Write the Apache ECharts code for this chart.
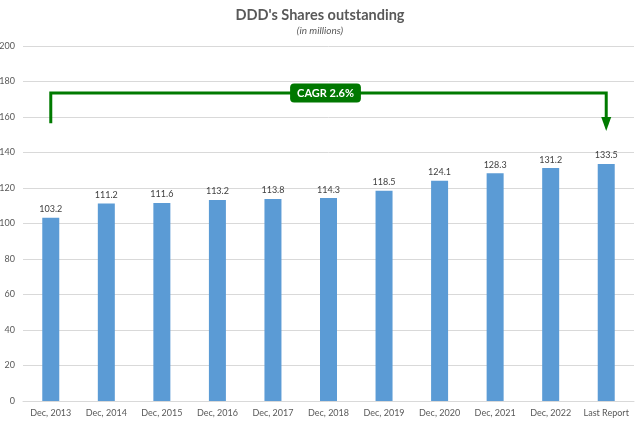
<!DOCTYPE html>
<html>
<head>
<meta charset="utf-8">
<script src="https://cdn.jsdelivr.net/npm/echarts@6/dist/echarts.min.js"></script>
</head>
<body style="margin:0;">
<div id="main" style="width:640px;height:421px;"></div>
<script type="text/javascript">
    var categories = ['Dec, 2013', 'Dec, 2014', 'Dec, 2015', 'Dec, 2016', 'Dec, 2017', 'Dec, 2018',
        'Dec, 2019', 'Dec, 2020', 'Dec, 2021', 'Dec, 2022', 'Last Report'];
    var shares = [103.2, 111.2, 111.6, 113.2, 113.8, 114.3, 118.5, 124.1, 128.3, 131.2, 133.5];
    // bracket from first to last bar (category index, value)
    var bracket = [[0, 156.5], [0, 173.5], [10, 173.5], [10, 158]];
    var arrowTip = [[10, 156]];
    var cagrLabel = 'CAGR 2.6%';

    var myChart = echarts.init(document.getElementById('main'));
    var font = 'Lato, "Open Sans", sans-serif';
    var option = {
        animation: false,
        textStyle: { fontFamily: font },
        title: {
            text: "DDD's Shares outstanding",
            subtext: '(in millions)',
            left: 'center',
            top: 3,
            itemGap: 3,
            textStyle: { fontSize: 14.5, fontWeight: 'bold', color: '#595959', fontFamily: font },
            subtextStyle: { fontSize: 10, fontStyle: 'italic', color: '#595959', fontFamily: font }
        },
        grid: { left: 23, right: 6, top: 46, bottom: 20, outerBoundsMode: 'none', containLabel: false },
        xAxis: {
            type: 'category',
            data: categories,
            axisLine: { lineStyle: { color: '#d9d9d9' } },
            axisTick: { show: false },
            axisLabel: { color: '#595959', fontSize: 9, interval: 0, margin: 8 }
        },
        yAxis: {
            type: 'value',
            min: 0,
            max: 200,
            interval: 20,
            axisLine: { show: false },
            axisTick: { show: false },
            axisLabel: { color: '#595959', fontSize: 9, margin: 8 },
            splitLine: { lineStyle: { color: '#d9d9d9' } }
        },
        series: [{
            type: 'bar',
            data: shares,
            barWidth: 17,
            itemStyle: { color: '#5b9bd5' },
            label: { show: true, position: 'top', color: '#404040', fontSize: 9, distance: 4 }
        }, {
            type: 'line',
            data: bracket,
            symbol: 'none',
            lineStyle: { color: '#007a00', width: 3, join: 'miter' },
            z: 5
        }, {
            type: 'scatter',
            data: arrowTip,
            symbol: 'triangle',
            symbolRotate: 180,
            symbolSize: [10, 14],
            itemStyle: { color: '#007a00', opacity: 1 },
            z: 6
        }, {
            type: 'scatter',
            data: [[5, 173.5]],
            symbolSize: 0,
            itemStyle: { opacity: 1 },
            emphasis: { disabled: true },
            label: {
                show: true,
                position: 'inside',
                offset: [-3, 0],
                formatter: cagrLabel,
                color: '#ffffff',
                fontWeight: 'bold',
                fontSize: 11,
                backgroundColor: '#007800',
                borderRadius: 4,
                padding: [4, 7, 4, 7]
            },
            z: 7
        }]
    };
    myChart.setOption(option);
</script>
</body>
</html>
